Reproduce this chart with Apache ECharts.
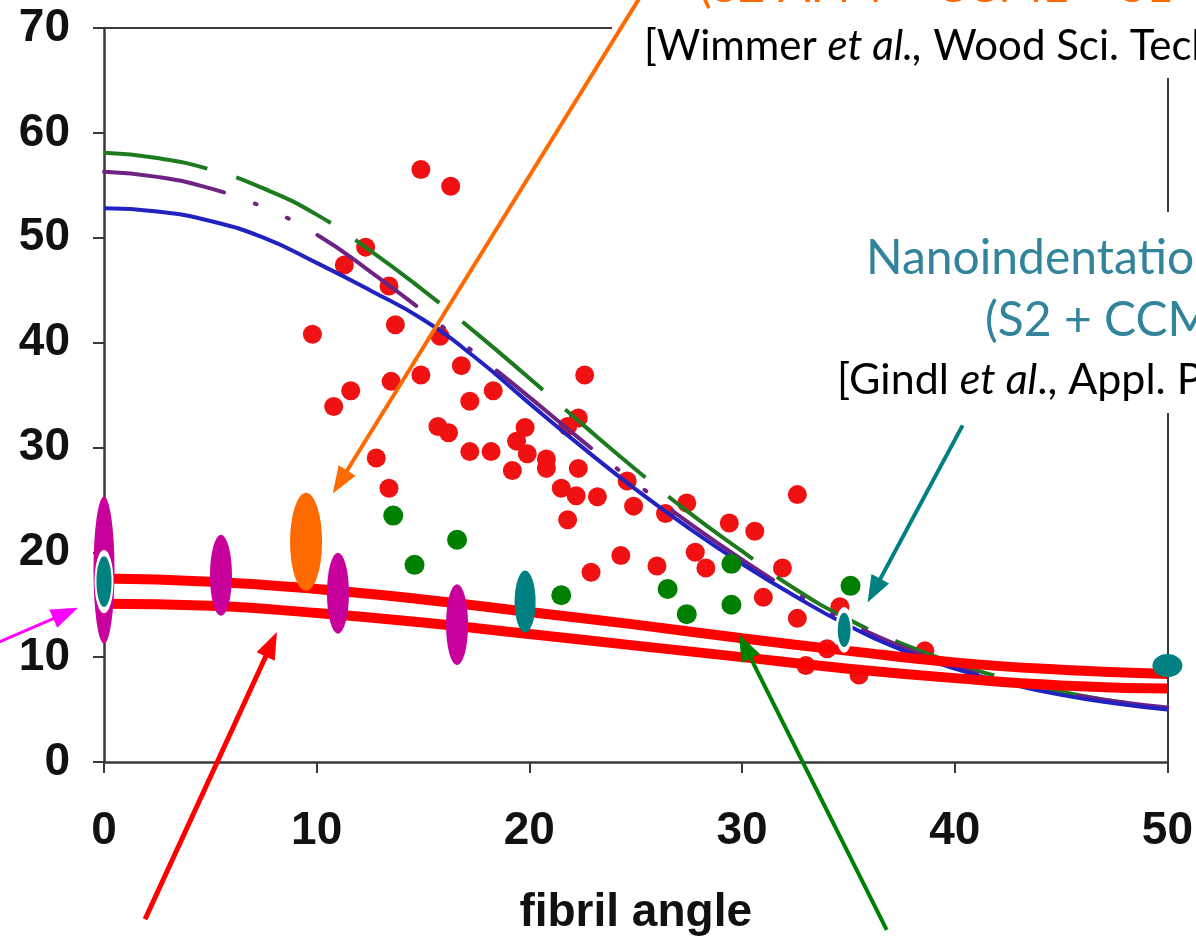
<!DOCTYPE html>
<html><head><meta charset="utf-8">
<script src="https://cdn.jsdelivr.net/npm/echarts@6/dist/echarts.min.js"></script>
<style>html,body{margin:0;padding:0;background:#fff}#c{width:1196px;height:941px}</style>
</head><body><div id="c"></div>
<script>
// ---------- data ----------
const xTicks = [0, 10, 20, 30, 40, 50];
const yTicks = [0, 10, 20, 30, 40, 50, 60, 70];
const xAxisName = 'fibril angle';

const redPoints = [[14.9,56.5],[16.3,54.9],[12.3,49.1],[11.3,47.4],[13.4,45.4],[13.7,41.7],[15.8,40.6],[9.8,40.8],
  [11.6,35.4],[10.8,33.9],[13.5,36.3],[14.9,36.9],[16.8,37.8],[17.2,34.4],[18.3,35.4],[22.6,36.9],[15.7,32.0],
  [16.2,31.4],[17.2,29.6],[18.2,29.6],[12.8,29.0],[13.4,26.1],[19.4,30.6],[19.8,31.9],[19.9,29.4],[19.2,27.8],
  [20.8,28.9],[20.8,28.0],[21.8,32.0],[22.3,32.8],[22.3,28.0],[21.5,26.1],[22.2,25.4],[23.2,25.3],[21.8,23.1],
  [22.9,18.1],[24.3,19.7],[24.6,26.8],[24.9,24.4],[26.0,18.7],[26.4,23.7],[27.4,24.7],[27.8,20.0],[28.3,18.5],
  [29.4,22.8],[30.6,22.0],[32.6,25.5],[31.9,18.5],[31.0,15.7],[32.6,13.7],[33.0,9.2],[34.0,10.8],[34.6,14.8],
  [35.5,8.3],[38.6,10.6]];
const greenPoints = [[13.6,23.5],[14.6,18.8],[16.6,21.2],[21.5,15.9],[26.5,16.5],[27.4,14.1],[29.5,18.9],[29.5,15.0],[35.1,16.8]];

const curveX = [0,2.5,5,7.5,10,12.5,15,17.5,20,22.5,25,27.5,30,32.5,35,37.5,40,42.5,45,47.5,50];
const blueCurve   = [52.8,52.5,51.6,50.0,47.6,45.0,42.2,38.5,34.2,30.0,26.0,22.3,18.9,15.8,13.0,10.7,8.9,7.5,6.4,5.6,5.0];
const purpleCurve = [56.3,55.8,54.7,52.9,50.3,46.8,43.0,38.9,34.8,30.6,26.6,22.8,19.3,16.1,13.3,11.0,9.1,7.7,6.6,5.8,5.2];
const greenCurve  = [58.1,57.6,56.5,54.7,52.2,48.8,45.0,40.9,36.6,32.2,27.9,23.8,20.1,16.5,13.6,11.3,9.4,7.9,6.7,5.8,5.1];

const redLineX = [0,5,10,15,20,25,30,35,40,45,50];
const redUpper = [17.5,17.2,16.5,15.5,14.3,13.1,11.8,10.6,9.5,8.8,8.4];
const redLower = [15.1,14.9,14.2,13.3,12.2,11.1,10.0,8.9,8.0,7.3,7.0];

const magentaBig = [[0,18.3]];
const magentaSmall = [[5.5,17.8],[11.0,16.1],[16.6,13.1]];
const orangeEllipse = [[9.5,21.0]];
const tealBordered = [[0,17.2],[34.8,12.6]];
const tealPlain = [[19.8,15.3]];
const tealEnd = [[50,9.2]];

// annotation arrows (data coordinates: from -> to)
const arrowFrom = [[25.19,72.9],[40.37,32.1],[1.93,-15.0],[36.8,-16.0],[-5.1,11.3]];
const arrowTo   = [[10.76,25.6],[35.9,15.2],[8.13,12.4],[29.84,12.2],[-1.22,14.7]];

// annotation texts
const orangeText = '(S2 AFM + CCML + S1 + S3)';
const wimmerText = ['[Wimmer ', 'et al.,', ' Wood Sci. Technol.]'];
const nanoText1 = 'Nanoindentation';
const nanoText2 = '(S2 + CCML)';
const gindlText = ['[Gindl ', 'et al', '., Appl. Phys. A]'];

// ---------- styles ----------
const arrowColors = ['#ff6a00', '#008080', '#ff0000', '#008000', '#ff00ff'];
const arrowWidths = [4, 4, 5, 4, 3];
const tealBorderedSizes = [[17,57],[15,40]];

const zip = (xs, ys) => xs.map((x, i) => [x, ys[i]]);

const chart = echarts.init(document.getElementById('c'), null, {renderer: 'canvas'});
const axisColor = '#3a3a3a';
const bold = {fontFamily: '"Liberation Sans", Arial, sans-serif', fontWeight: 'bold', color: '#111'};
const solid = c => ({color: c, opacity: 1});

chart.setOption({
  animation: false,
  backgroundColor: '#ffffff',
  grid: {left: 104, right: 28, top: 28, bottom: 170, containLabel: false},
  xAxis: [{
    type: 'value', min: 0, max: 50, interval: 10,
    axisLine: {show: true, onZero: false, lineStyle: {color: axisColor, width: 2.5}},
    axisTick: {show: true, inside: false, length: 11, lineStyle: {color: axisColor, width: 2}},
    splitLine: {show: false},
    axisLabel: Object.assign({fontSize: 46, margin: 46, formatter: v => xTicks.includes(v) ? String(v) : ''}, bold),
    name: xAxisName, nameLocation: 'middle', nameGap: 128,
    nameTextStyle: Object.assign({fontSize: 46}, bold)
  }, {
    type: 'value', min: 0, max: 50, position: 'top',
    axisLine: {show: true, onZero: false, lineStyle: {color: axisColor, width: 2}},
    axisTick: {show: false}, axisLabel: {show: false}, splitLine: {show: false}
  }],
  yAxis: [{
    type: 'value', min: 0, max: 70, interval: 10,
    axisLine: {show: true, onZero: false, lineStyle: {color: axisColor, width: 2.5}},
    axisTick: {show: true, inside: false, length: 11, lineStyle: {color: axisColor, width: 2}},
    splitLine: {show: false},
    axisLabel: Object.assign({fontSize: 46, margin: 34, formatter: v => yTicks.includes(v) ? String(v) : ''}, bold)
  }, {
    type: 'value', min: 0, max: 70, position: 'right',
    axisLine: {show: true, onZero: false, lineStyle: {color: axisColor, width: 2}},
    axisTick: {show: false}, axisLabel: {show: false}, splitLine: {show: false}
  }],
  series: [
    {type: 'scatter', name: 'red', data: redPoints, symbol: 'circle', symbolSize: 19, z: 1,
      itemStyle: solid('#f01212')},
    {type: 'line', name: 'green curve', data: zip(curveX, greenCurve), smooth: true, showSymbol: false, z: 3,
      lineStyle: {color: '#1e7a1e', width: 4, type: [105, 30]}},
    {type: 'line', name: 'purple curve', data: zip(curveX, purpleCurve), smooth: true, showSymbol: false, z: 3,
      lineStyle: {color: '#6e2383', width: 4, type: [122, 33, 2, 33, 2, 33], cap: 'round'}},
    {type: 'line', name: 'blue curve', data: zip(curveX, blueCurve), smooth: true, showSymbol: false, z: 3,
      lineStyle: {color: '#2222c0', width: 4}},
    {type: 'line', name: 'red upper', data: zip(redLineX, redUpper), smooth: true, showSymbol: false, z: 4,
      lineStyle: {color: '#ff0000', width: 10}},
    {type: 'line', name: 'red lower', data: zip(redLineX, redLower), smooth: true, showSymbol: false, z: 4,
      lineStyle: {color: '#ff0000', width: 10}},
    {type: 'scatter', name: 'green', data: greenPoints, symbol: 'circle', symbolSize: 20, z: 5,
      itemStyle: solid('#008000')},
    {type: 'scatter', name: 'magenta big', data: magentaBig, symbol: 'circle', symbolSize: [21, 147], z: 5,
      itemStyle: solid('#c8009c')},
    {type: 'scatter', name: 'magenta', data: magentaSmall, symbol: 'circle', symbolSize: [22, 81], z: 5,
      itemStyle: solid('#c8009c')},
    {type: 'scatter', name: 'orange', data: orangeEllipse, symbol: 'circle', symbolSize: [32, 98], z: 5,
      itemStyle: solid('#ff6a00')},
    {type: 'scatter', name: 'teal', data: tealPlain, symbol: 'circle', symbolSize: [21, 62], z: 5,
      itemStyle: solid('#008080')},
    {type: 'scatter', name: 'teal end', data: tealEnd, symbol: 'circle', symbolSize: [30, 23], z: 5,
      itemStyle: solid('#008080')},
    {type: 'scatter', name: 'teal bordered', data: tealBordered, symbol: 'circle',
      symbolSize: (v, p) => tealBorderedSizes[p.dataIndex], z: 6,
      itemStyle: {color: '#008080', opacity: 1, borderColor: '#ffffff', borderWidth: 3.5}}
  ]
});

// ---------- annotations ----------
const px = p => chart.convertToPixel({gridIndex: 0}, p);
const graphics = [];
const ann = '"Lato", "Open Sans", sans-serif';
graphics.push({type: 'rect', z: 60, shape: {x: 612, y: 0, width: 600, height: 78}, style: {fill: '#ffffff'}});
graphics.push({type: 'rect', z: 60, shape: {x: 828, y: 212, width: 400, height: 201}, style: {fill: '#ffffff'}});
arrowFrom.forEach((f, i) => {
  const a = px(f), b = px(arrowTo[i]);
  const dx = b[0] - a[0], dy = b[1] - a[1];
  const len = Math.hypot(dx, dy), ux = dx / len, uy = dy / len;
  const hl = 27, hw = 10;
  const base = [b[0] - ux * hl, b[1] - uy * hl];
  graphics.push({type: 'line', z: 80, shape: {x1: a[0], y1: a[1], x2: base[0] + ux * 2, y2: base[1] + uy * 2},
    style: {stroke: arrowColors[i], lineWidth: arrowWidths[i]}});
  graphics.push({type: 'polygon', z: 80, shape: {points: [b, [base[0] - uy * hw, base[1] + ux * hw], [base[0] + uy * hw, base[1] - ux * hw]]},
    style: {fill: arrowColors[i]}});
});
graphics.push({type: 'text', z: 70, x: 699, y: 11, style: {text: orangeText, font: '48px ' + ann, fill: '#ff6a00', verticalAlign: 'bottom', align: 'left'}});
graphics.push({type: 'text', z: 70, x: 644, y: 46, style: {
  text: '{n|' + wimmerText[0] + '}{i|' + wimmerText[1] + '}{n|' + wimmerText[2] + '}',
  rich: {n: {font: '42px ' + ann, fill: '#000'}, i: {font: 'italic 42px ' + ann, fill: '#000'}},
  verticalAlign: 'middle'}});
graphics.push({type: 'text', z: 70, x: 866, y: 259, style: {text: nanoText1, font: '48px ' + ann, fill: '#31849b', verticalAlign: 'middle'}});
graphics.push({type: 'text', z: 70, x: 985, y: 321, style: {text: nanoText2, font: '48px ' + ann, fill: '#31849b', verticalAlign: 'middle'}});
graphics.push({type: 'text', z: 70, x: 837, y: 380, style: {
  text: '{n|' + gindlText[0] + '}{i|' + gindlText[1] + '}{n|' + gindlText[2] + '}',
  rich: {n: {font: '43px ' + ann, fill: '#000'}, i: {font: 'italic 43px ' + ann, fill: '#000'}},
  verticalAlign: 'middle'}});
chart.setOption({graphic: {elements: graphics}});
</script>
</body></html>
